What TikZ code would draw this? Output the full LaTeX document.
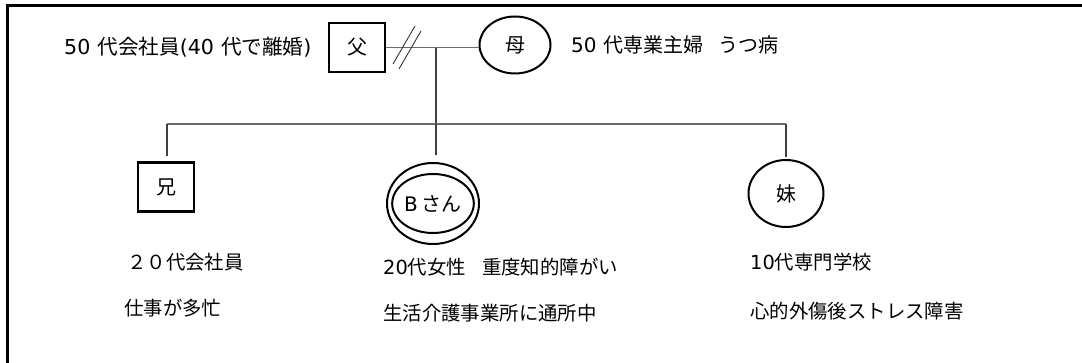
\documentclass[tikz,border=0pt]{standalone}
\usepackage{fontspec}
\newfontfamily\jp{Noto Sans CJK JP}
\newfontfamily\lat{DejaVu Sans}
\newcommand{\dg}[1]{{\lat #1}}
\usetikzlibrary{shapes.geometric}
\begin{document}
\begin{tikzpicture}[x=1pt,y=-1pt,
  every node/.style={font=\jp\fontsize{20}{24}\selectfont, inner sep=0pt},
  small/.style={font=\jp\fontsize{19.4}{24}\selectfont},
  big/.style={font=\jp\fontsize{20.6}{24}\selectfont},
  sqbox/.style={draw, line width=2.4pt, minimum width=56pt, minimum height=49pt},
  oval/.style={draw, ellipse, line width=2pt},
  conn/.style={draw=black!58, line width=1.6pt},
  thinconn/.style={draw=black!75, line width=1.1pt},
  lbl/.style={anchor=west}]
\useasboundingbox (0,0) rectangle (1082,363);
\clip (0,0) rectangle (1082,363);
\draw[line width=3pt] (1095,6) -- (7,6) -- (7,375);

% parents
\node[sqbox] (fa) at (357,47.5) {父};
\node[oval, minimum width=71pt, minimum height=57pt] (mo) at (515,45) {母};
\node[lbl, big] (fatxt) at (64,47) {\dg{50}\hspace{7pt}代会社員\dg{(40}\hspace{7pt}代で離婚\dg{)}};
\node[lbl] (motxt) at (571,45) {\dg{50}\hspace{7pt}代専業主婦\hspace{15pt}うつ病};

\draw[conn, line width=1.4pt] (fa.east) -- (mo.west |- fa.east);
\draw[line width=0.9pt, black!80] (393,64) -- (415,26);
\draw[line width=0.9pt, black!80] (399,69) -- (421,31);

\coordinate (jn) at (436,48);
\coordinate (sibM) at (436,124);
\coordinate (sibL) at (167,124);
\coordinate (sibR) at (786,124);
\draw[thinconn] (jn) -- (sibM);
\draw[conn] (sibL) -- (sibR);

% children
\node[sqbox] (bro) at (166,187) {兄};
\node[oval, minimum width=92pt, minimum height=81pt] (bout) at (433,203.5) {};
\node[oval, minimum width=67pt, minimum height=59pt] (bin) at (433,203.5) {\dg{B}\hspace{4pt}さん};
\node[oval, minimum width=75pt, minimum height=67pt] (sis) at (786,193.5) {妹};

\draw[thinconn, shorten >=5pt] (sibL) -- (sibL |- bro.north);
\draw[thinconn, shorten >=7pt] (sibM) -- (sibM |- bout.north);
\draw[thinconn, shorten >=2pt] (sibR) -- (sis.north);

% descriptions
\node[lbl, small] (b1) at (127,262) {２０代会社員};
\node[lbl, small] (b2) at (124,308) {仕事が多忙};
\node[lbl, small] (m1) at (383,267) {\dg{20}代女性\hspace{16pt}重度知的障がい};
\node[lbl, small] (m2) at (383,313) {生活介護事業所に通所中};
\node[lbl, small] (s1) at (750,262) {\dg{10}代専門学校};
\node[lbl, small] (s2) at (750,311) {心的外傷後ストレス障害};
\end{tikzpicture}
\end{document}
